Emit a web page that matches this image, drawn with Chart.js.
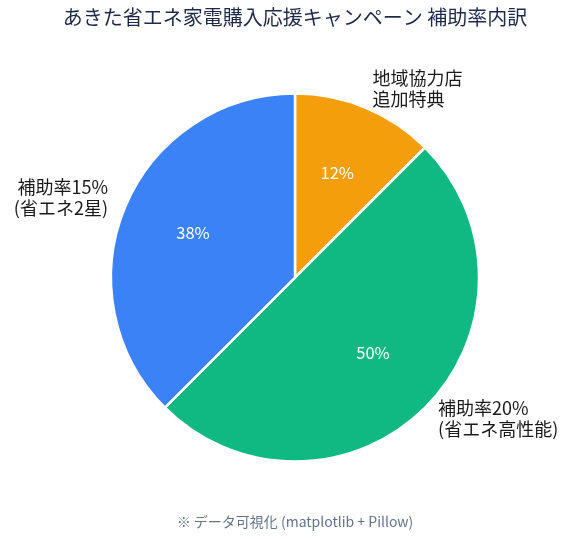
<!DOCTYPE html>
<html>
<head>
<meta charset="utf-8">
<script src="https://cdn.jsdelivr.net/npm/chart.js@4"></script>
<style>
  html, body { margin: 0; padding: 0; background: #fff; }
  #wrap { width: 571px; height: 539px; }
</style>
</head>
<body>
<div id="wrap"><canvas id="myChart" width="571" height="539"></canvas></div>
<script>
const titulo = "あきた省エネ家電購入応援キャンペーン 補助率内訳"
const nota = "※ データ可視化 (matplotlib + Pillow)"
const categorias = [["地域協力店", "追加特典"], ["補助率20%", "(省エネ高性能)"], ["補助率15%", "(省エネ2星)"]]
const valores = [12.5, 50, 37.5]
const colores = ["#f59e0b", "#10b981", "#3b82f6"]

const fuente = "'Noto Sans CJK JP', 'Noto Sans', sans-serif"
const ctx = document.getElementById('myChart');

// redondeo al par, como el formato %1.0f de python
const redondear = (v) => {
  const f = Math.floor(v)
  const d = v - f
  if (Math.abs(d - 0.5) < 1e-9) return f % 2 === 0 ? f : f + 1
  return Math.round(v)
}

// etiquetas fuera y porcentajes dentro
const etiquetasPie = {
  id: 'etiquetasPie',
  afterDatasetsDraw(chart) {
    const c = chart.ctx
    const arcs = chart.getDatasetMeta(0).data
    const total = valores.reduce((a, b) => a + b, 0)
    arcs.forEach((arc, i) => {
      const mid = (arc.startAngle + arc.endAngle) / 2
      const r = arc.outerRadius
      const cos = Math.cos(mid), sin = Math.sin(mid)
      // porcentaje
      c.save()
      c.fillStyle = "#ffffff"
      c.font = "16.5px " + fuente
      c.textAlign = "center"
      c.textBaseline = "middle"
      const pct = redondear(valores[i] / total * 100) + "%"
      c.fillText(pct, arc.x + cos * r * 0.6, arc.y + sin * r * 0.6 - 3)
      // etiqueta
      const lx = arc.x + cos * r * 1.1
      const ly = arc.y + sin * r * 1.1 - 2
      c.fillStyle = "#1a1a1a"
      c.font = "18px " + fuente
      c.textAlign = lx >= arc.x ? "left" : "right"
      const lineas = categorias[i]
      const alto = 21
      const y0 = ly - (lineas.length - 1) * alto / 2
      lineas.forEach((t, k) => c.fillText(t, lx, y0 + k * alto))
      c.restore()
    })
  }
}

new Chart(ctx, {
  type: 'pie',
  data: {
    labels: categorias.map(l => l.join(" ")),
    datasets: [{
      data: valores,
      backgroundColor: colores,
      borderColor: "#ffffff",
      borderWidth: 2.5
    }]
  },
  options: {
    responsive: false,
    animation: false,
    radius: 184,
    layout: { padding: { left: 19 } },
    plugins: {
      legend: { display: false },
      tooltip: { enabled: false },
      title: {
        display: true,
        text: titulo,
        color: "#1e2a48",
        font: { size: 20, family: fuente, weight: 'normal' },
        padding: { top: 5, bottom: 21 }
      },
      subtitle: {
        display: true,
        text: nota,
        position: 'bottom',
        color: "#64748b",
        font: { size: 14, family: fuente },
        padding: { top: 8, bottom: 9 }
      }
    }
  },
  plugins: [etiquetasPie]
});
</script>
</body>
</html>
